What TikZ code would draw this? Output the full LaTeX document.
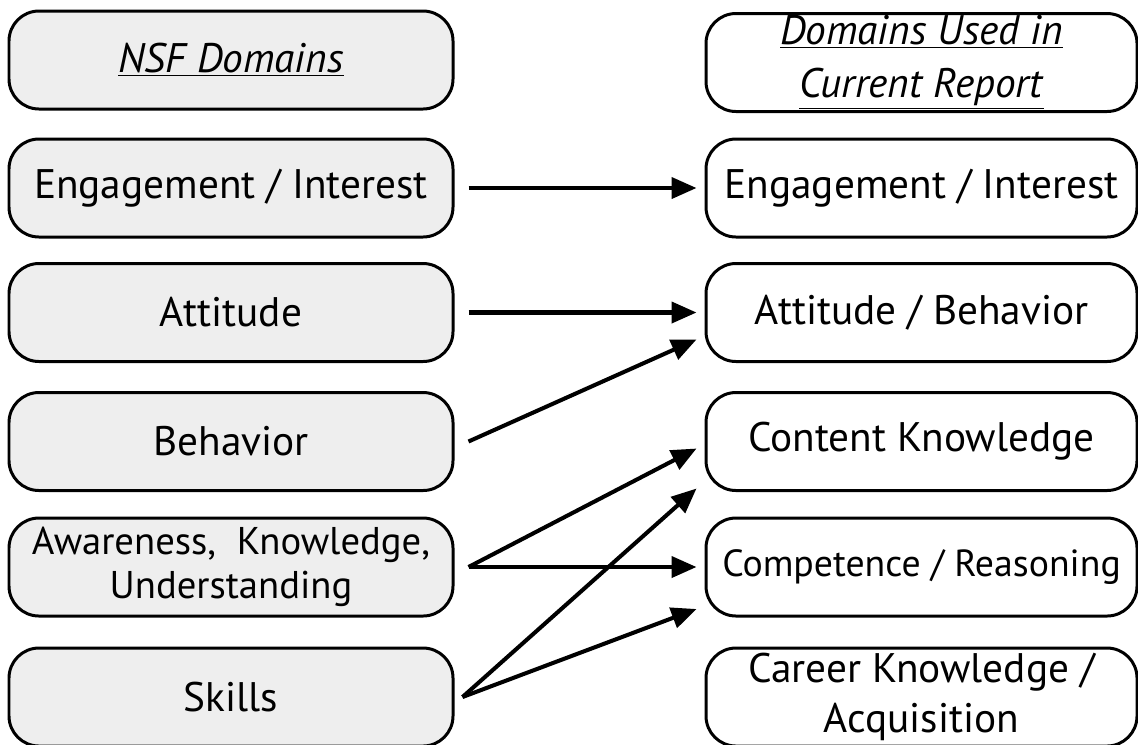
\documentclass[tikz,border=0pt]{standalone}
\usepackage{fontspec}
\setmainfont{PT Sans}
\usepackage{tikz}
\usetikzlibrary{arrows.meta,positioning}

\begin{document}
\begin{tikzpicture}[
  domainbox/.style={draw=black, line width=1.7pt, rounded corners=0.6cm,
    minimum height=1.96cm, align=center, inner sep=0pt,
    font=\fontsize{23.5}{28}\selectfont},
  nsf/.style={domainbox, fill=gray!13, minimum width=8.88cm},
  used/.style={domainbox, fill=white, minimum width=8.62cm},
  link/.style={line width=2.3pt, -{Triangle[length=0.5cm,width=0.42cm]}}
]
\useasboundingbox (0,0) rectangle (22.76,-14.88);

% left column
\node[nsf] (nsfHead) at (4.62,-1.2) {\underline{\textit{NSF Domains}}};
\node[nsf] (nsfEng) at (4.62,-3.76) {Engagement / Interest};
\node[nsf] (nsfAtt) at (4.62,-6.25) {Attitude};
\node[nsf] (nsfBeh) at (4.62,-8.83) {Behavior};
\node[nsf, font=\fontsize{22}{25}\selectfont] (nsfAwa) at (4.62,-11.34) {Awareness,\ \ Knowledge,\\Understanding};
\node[nsf] (nsfSki) at (4.62,-13.94) {Skills};

% right column
\node[used, font=\fontsize{23.5}{30}\selectfont] (usedHead) at (18.43,-1.25) {\underline{\textit{Domains Used in}}\\\underline{\textit{Current Report}}};
\node[used] (usedEng) at (18.43,-3.76) {Engagement / Interest};
\node[used] (usedAtt) at (18.43,-6.25) {Attitude / Behavior};
\node[used] (usedCont) at (18.43,-8.83) {Content Knowledge};
\node[used, font=\fontsize{21.5}{28}\selectfont] (usedComp) at (18.43,-11.34) {Competence / Reasoning};
\node[used] (usedCar) at (18.43,-13.94) {Career Knowledge /\\Acquisition};

% mapping
\draw[link] ([xshift=0.28cm]nsfEng.east) -- ([xshift=-0.16cm]usedEng.west);
\draw[link] ([xshift=0.28cm]nsfAtt.east) -- ([xshift=-0.16cm]usedAtt.west);
\draw[link] ([xshift=0.28cm]nsfBeh.east) -- ([xshift=-0.16cm,yshift=-0.54cm]usedAtt.west);
\draw[link] ([xshift=0.28cm]nsfAwa.east) -- ([xshift=-0.16cm,yshift=-0.14cm]usedCont.west);
\draw[link] ([xshift=0.28cm]nsfAwa.east) -- ([xshift=-0.16cm]usedComp.west);
\draw[link] ([xshift=0.16cm]nsfSki.east) -- ([xshift=-0.16cm,yshift=-0.94cm]usedCont.west);
\draw[link] ([xshift=0.16cm]nsfSki.east) -- ([xshift=-0.16cm,yshift=-0.84cm]usedComp.west);
\end{tikzpicture}
\end{document}
